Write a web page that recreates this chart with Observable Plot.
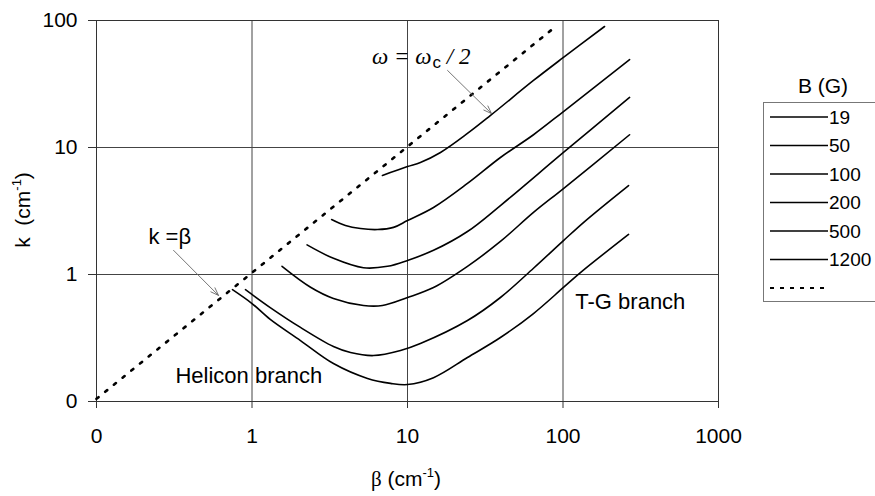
<!DOCTYPE html>
<html><head><meta charset="utf-8">
<script src="https://cdn.jsdelivr.net/npm/d3@7"></script>
<script src="https://cdn.jsdelivr.net/npm/@observablehq/plot@0.6"></script>
<style>
html,body{margin:0;padding:0;background:#fff;}
#chart{position:relative;width:875px;height:496px;overflow:hidden;}
</style></head><body><div id="chart"></div>
<script>
// Magnetic field values (legend)
const fieldsB = [19, 50, 100, 200, 500, 1200];
// Curves: beta (cm^-1) and k (cm^-1)
const beta19 = [6.9, 10, 12.1, 16.3, 24.3, 34.2, 64.6, 100.7, 185];
const k19    = [6.03, 7.08, 7.62, 9.14, 12.9, 17.9, 33.7, 51.2, 89.7];
const beta50 = [3.25, 3.99, 4.99, 6.41, 8.13, 10, 14.7, 24.3, 39.6, 64.6, 100.7, 268];
const k50    = [2.71, 2.43, 2.30, 2.26, 2.35, 2.66, 3.37, 5.21, 8.34, 12.6, 19.2, 49.3];
const beta100 = [2.26, 3.34, 5.21, 7.44, 10, 14.7, 24.3, 39.6, 100.7, 268];
const k100    = [1.71, 1.34, 1.13, 1.16, 1.29, 1.55, 2.18, 3.49, 9.14, 24.8];
const beta200 = [1.56, 2.38, 3.34, 5.21, 6.9, 10, 14.7, 24.3, 39.6, 64.6, 100.7, 268];
const k200    = [1.16, 0.794, 0.648, 0.570, 0.570, 0.659, 0.79, 1.16, 1.82, 3.08, 4.75, 12.6];
const beta500 = [0.908, 1.31, 2.05, 3.34, 4.30, 6.04, 9.02, 12.1, 24.3, 39.6, 64.6, 100.7, 140, 264];
const k500    = [0.76, 0.549, 0.383, 0.271, 0.243, 0.230, 0.252, 0.286, 0.434, 0.659, 1.12, 1.85, 2.66, 5.02];
const beta1200 = [0.749, 1.0, 1.31, 2.05, 3.34, 5.53, 7.78, 10, 14.7, 24.3, 39.6, 64.6, 100.7, 130, 264];
const k1200    = [0.76, 0.591, 0.443, 0.302, 0.199, 0.152, 0.139, 0.136, 0.154, 0.222, 0.319, 0.493, 0.791, 1.04, 2.07];
// Dotted line k = beta  (omega = omega_c/2)
const dottedBeta = [0.1, 87];
const dottedK    = [0.105, 87];
// Axis ticks
const xTicks = [0.1, 1, 10, 100, 1000];
const yTicks = [0.1, 1, 10, 100];
const xGrid = [1, 10, 100];
const yGrid = [1, 10];
const tickLabel = d => d < 1 ? "0" : String(d);

const betas = [beta19, beta50, beta100, beta200, beta500, beta1200];
const ks = [k19, k50, k100, k200, k500, k1200];
const rows = fieldsB.flatMap((B, i) => betas[i].map((b, j) => ({B, beta: b, k: ks[i][j]})));
const dotted = dottedBeta.map((b, i) => ({beta: b, k: dottedK[i]}));

const plot = Plot.plot({
  width: 875, height: 496,
  marginLeft: 96, marginRight: 157, marginTop: 20, marginBottom: 95,
  x: {type: "log", domain: [0.1, 1000]},
  y: {type: "log", domain: [0.1, 100]},
  style: {fontFamily: "'Liberation Sans', Arial, sans-serif", fontSize: "21px", color: "#000", background: "#fff", overflow: "visible"},
  marks: [
    Plot.ruleX(xGrid, {stroke: "#444", strokeWidth: 1}),
    Plot.ruleY(yGrid, {stroke: "#444", strokeWidth: 1}),
    Plot.frame({stroke: "#333", strokeWidth: 1}),
    Plot.axisX({ticks: xTicks, tickFormat: tickLabel, tickSize: 7, tickPadding: 20, label: null, stroke: "#333"}),
    Plot.axisY({ticks: yTicks, tickFormat: tickLabel, tickSize: 8, tickPadding: 11, label: null, stroke: "#333"}),
    Plot.line(dotted, {x: "beta", y: "k", stroke: "#000", strokeWidth: 2.6, strokeDasharray: "2.6,8.6"}),
    Plot.line(rows, {x: "beta", y: "k", z: "B", stroke: "#000", strokeWidth: 1.6, curve: "catmull-rom"}),
    Plot.arrow([{x1: 0.313, y1: 1.55, x2: 0.609, y2: 0.684}, {x1: 18.1, y1: 40.4, x2: 34.7, y2: 18.5}],
      {x1: "x1", y1: "y1", x2: "x2", y2: "y2", stroke: "#666", strokeWidth: 0.9, headLength: 14, headAngle: 40}),
    Plot.text([{x: 0.216, y: 1.99, t: "k =β"}], {x: "x", y: "y", text: "t", textAnchor: "start", fontSize: 22}),
    Plot.text([{x: 0.322, y: 0.160, t: "Helicon branch"}], {x: "x", y: "y", text: "t", textAnchor: "start", fontSize: 22}),
    Plot.text([{x: 120, y: 0.603, t: "T-G branch"}], {x: "x", y: "y", text: "t", textAnchor: "start", fontSize: 22})
  ]
});
document.getElementById("chart").appendChild(plot);

const svg = d3.select(plot);
const xs = plot.scale("x"), ys = plot.scale("y");

// omega annotation
const om = svg.append("text")
  .attr("x", xs.apply(5.96)).attr("y", ys.apply(45.1)).attr("text-anchor", "start")
  .attr("font-family", "'Liberation Serif', 'Times New Roman', serif")
  .attr("font-style", "italic").attr("font-size", 23);
om.append("tspan").text("ω = ω");
om.append("tspan").attr("font-family", "'Liberation Sans', Arial, sans-serif").attr("font-style", "normal")
  .attr("font-size", 17).attr("dy", 4).attr("dx", 1).text("c");
om.append("tspan").attr("dy", -4).text(" / 2");

// axis titles
const xt = svg.append("text").attr("x", 406).attr("y", 486).attr("text-anchor", "middle").attr("font-size", 21);
xt.append("tspan").attr("font-family", "'Liberation Serif', serif").text("β");
xt.append("tspan").text(" (cm");
xt.append("tspan").attr("font-size", 13).attr("dy", -9).text("-1");
xt.append("tspan").attr("dy", 9).text(")");

const yt = svg.append("text").attr("transform", "translate(30,210) rotate(-90)").attr("text-anchor", "middle").attr("font-size", 21);
yt.append("tspan").text("k  (cm");
yt.append("tspan").attr("font-size", 13).attr("dy", -9).text("-1");
yt.append("tspan").attr("dy", 9).text(")");

// legend
const lg = svg.append("g").attr("text-anchor", "start");
lg.append("text").attr("x", 823).attr("y", 93).attr("text-anchor", "middle").attr("font-size", 21).text("B (G)");
lg.append("rect").attr("x", 763.5).attr("y", 102.5).attr("width", 160).attr("height", 199)
  .attr("fill", "none").attr("stroke", "#777").attr("stroke-width", 1);
const entries = fieldsB.map(String).concat([""]);
entries.forEach((lab, i) => {
  const y = 117 + i * 28.5;
  lg.append("line").attr("x1", 770).attr("x2", 828).attr("y1", y).attr("y2", y)
    .attr("stroke", "#000").attr("stroke-width", i < fieldsB.length ? 1.4 : 2.2)
    .attr("stroke-dasharray", i < fieldsB.length ? null : "4,6");
  if (lab) lg.append("text").attr("x", 829).attr("y", y).attr("dy", "0.35em").attr("text-anchor", "start").attr("font-size", 19).text(lab);
});
</script></body></html>
